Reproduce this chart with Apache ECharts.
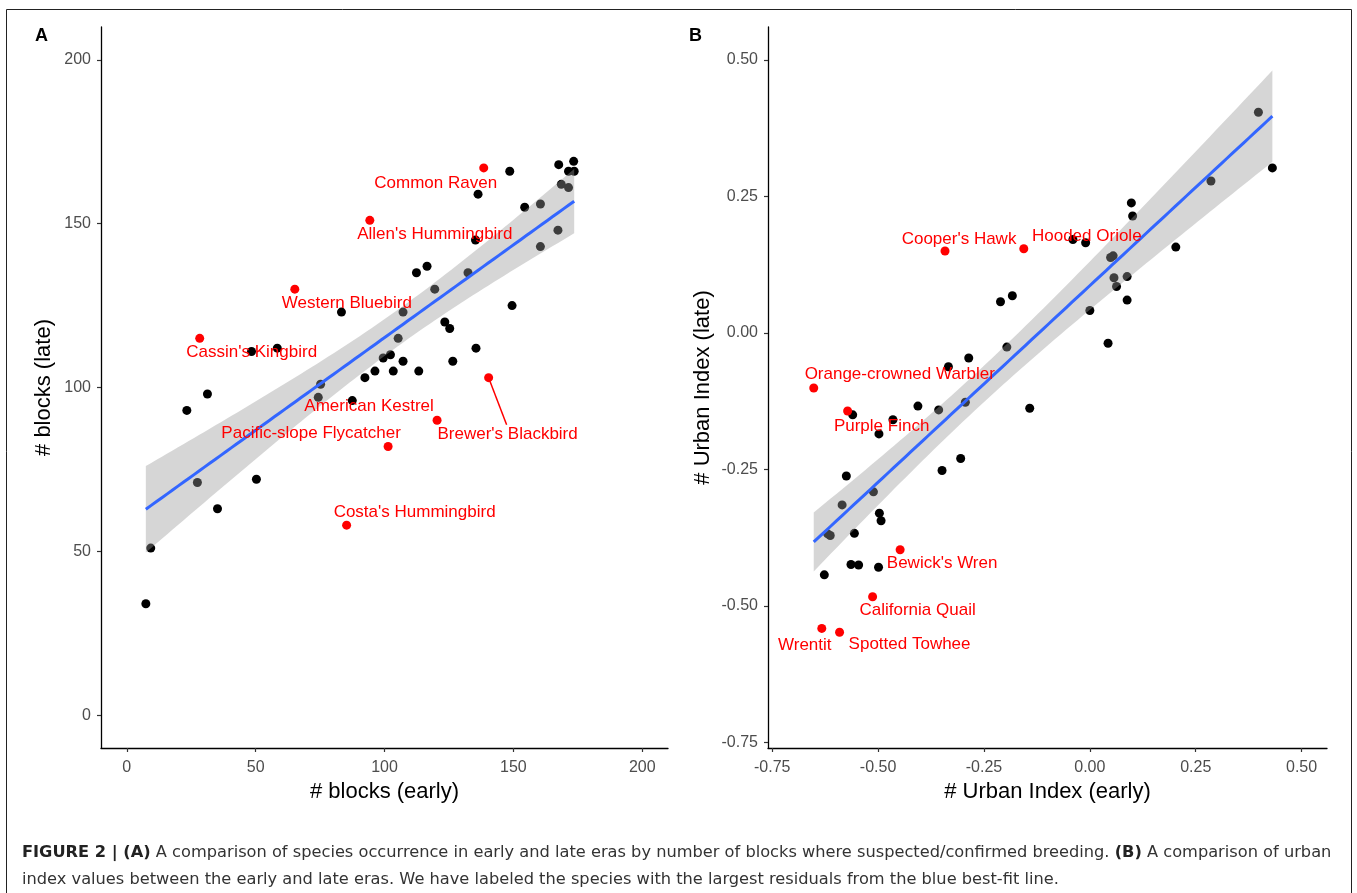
<!DOCTYPE html>
<html><head><meta charset="utf-8">
<script src="https://cdn.jsdelivr.net/npm/echarts@6/dist/echarts.min.js"></script>
<style>html,body{margin:0;padding:0;background:#fff;} #chart{width:1357px;height:893px;}</style>
</head><body><div id="chart"></div>
<script>
// ---------- data ----------
const blocksTicks = [0, 50, 100, 150, 200];
const urbanTicks = [-0.75, -0.5, -0.25, 0, 0.25, 0.5];

// Panel A: [# blocks (early), # blocks (late)]
const blocksPoints = [
  [148.6,166],[167.6,168],[173.4,169],[171.4,166],[173.6,166],[168.6,162],[171.4,161],
  [136.3,159],[154.4,155],[160.5,156],[135.3,145],[167.3,148],[160.5,143],[112.4,135],
  [116.5,137],[132.4,135],[119.5,130],[149.5,125],[83.3,123],[107.2,123],[123.4,120],
  [125.3,118],[105.3,115],[48.4,111],[58.4,112],[135.5,112],[99.5,109],[102.3,110],
  [107.2,108],[126.5,108],[96.3,105],[103.4,105],[113.3,105],[92.4,103],[75.2,101],
  [74.3,97],[87.5,96],[31.3,98],[23.3,93],[27.4,71],[50.3,72],[35.2,63],[9.3,51],[7.4,34]
];
const blocksLabeledNames = [
  "Common Raven","Allen's Hummingbird","Western Bluebird","Cassin's Kingbird",
  "Brewer's Blackbird","American Kestrel","Pacific-slope Flycatcher","Costa's Hummingbird"
];
const blocksLabeledPoints = [
  [138.5,167],[94.3,151],[65.2,130],[28.3,115],[140.4,103],[120.4,90],[101.4,82],[85.3,58]
];

// Panel B: [urban index (early), urban index (late)]
const urbanPoints = [
  [0.398,0.404],[0.431,0.302],[0.286,0.278],[0.098,0.238],[0.101,0.214],[-0.040,0.171],
  [-0.010,0.165],[0.203,0.157],[0.049,0.138],[0.055,0.141],[0.057,0.101],[0.088,0.103],
  [0.063,0.085],[0.088,0.060],[0.000,0.041],[0.043,-0.019],[-0.211,0.057],[-0.183,0.068],
  [-0.560,-0.150],[-0.498,-0.185],[-0.465,-0.159],[-0.406,-0.134],[-0.357,-0.141],
  [-0.294,-0.127],[-0.334,-0.062],[-0.286,-0.046],[-0.196,-0.026],[-0.142,-0.138],
  [-0.305,-0.230],[-0.349,-0.252],[-0.575,-0.262],[-0.511,-0.291],[-0.585,-0.315],
  [-0.497,-0.330],[-0.493,-0.344],[-0.556,-0.367],[-0.613,-0.371],[-0.619,-0.368],
  [-0.564,-0.424],[-0.546,-0.425],[-0.499,-0.429],[-0.627,-0.443]
];
const urbanLabeledNames = [
  "Cooper's Hawk","Hooded Oriole","Orange-crowned Warbler","Purple Finch",
  "Bewick's Wren","California Quail","Wrentit","Spotted Towhee"
];
const urbanLabeledPoints = [
  [-0.342,0.150],[-0.156,0.154],[-0.652,-0.101],[-0.572,-0.143],
  [-0.448,-0.397],[-0.513,-0.483],[-0.633,-0.541],[-0.591,-0.548]
];

// ---------- layout / style (not data) ----------
const labelOffsets = {
  "Common Raven": [-48, 15], "Allen's Hummingbird": [65, 14], "Western Bluebird": [52, 14],
  "Cassin's Kingbird": [52, 14], "Brewer's Blackbird": [19, 57], "American Kestrel": [-68, -14],
  "Pacific-slope Flycatcher": [-77, -13], "Costa's Hummingbird": [68, -13],
  "Cooper's Hawk": [14, -12], "Hooded Oriole": [63, -12], "Orange-crowned Warbler": [86, -14],
  "Purple Finch": [34, 15], "Bewick's Wren": [42, 14], "California Quail": [45, 14],
  "Wrentit": [-17, 17], "Spotted Towhee": [70, 12]
};
const FONT = "'Liberation Sans', Arial, Helvetica, sans-serif";
const CAP_FONT = "'DejaVu Sans', 'Liberation Sans', sans-serif";

// linear model + 95% CI (as geom_smooth(method='lm'))
function lmFit(pts) {
  const n = pts.length;
  const xbar = pts.reduce((s, p) => s + p[0], 0) / n;
  const ybar = pts.reduce((s, p) => s + p[1], 0) / n;
  let sxx = 0, sxy = 0;
  pts.forEach(p => { sxx += (p[0]-xbar)**2; sxy += (p[0]-xbar)*(p[1]-ybar); });
  const b = sxy / sxx, a = ybar - b * xbar;
  let sse = 0; pts.forEach(p => { sse += (p[1] - a - b*p[0])**2; });
  const s = Math.sqrt(sse / (n - 2));
  const t = 2.01;
  const xmin = Math.min(...pts.map(p => p[0])), xmax = Math.max(...pts.map(p => p[0]));
  const line = [], upper = [], lower = [];
  const N = 80;
  for (let i = 0; i <= N; i++) {
    const x = xmin + (xmax - xmin) * i / N;
    const yh = a + b * x;
    const se = s * Math.sqrt(1/n + (x - xbar)**2 / sxx);
    line.push([x, yh]); upper.push([x, yh + t*se]); lower.push([x, yh - t*se]);
  }
  return { line, upper, lower };
}
const fitA = lmFit(blocksPoints.concat(blocksLabeledPoints));
const fitB = lmFit(urbanPoints.concat(urbanLabeledPoints));

function bandSeries(fit, idx) {
  return {
    type: 'custom', xAxisIndex: idx, yAxisIndex: idx, z: 3, silent: true,
    data: [[fit.line[0][0], fit.line[0][1]]],
    renderItem: (params, api) => {
      const pts = fit.upper.map(p => api.coord(p))
        .concat(fit.lower.slice().reverse().map(p => api.coord(p)));
      return { type: 'polygon', shape: { points: pts }, style: { fill: 'rgba(153,153,153,0.4)' } };
    }
  };
}
function labeledSeries(names, pts, idx) {
  return {
    type: 'scatter', xAxisIndex: idx, yAxisIndex: idx, z: 5, symbolSize: 9,
    itemStyle: { color: '#ff0000', opacity: 1 },
    data: names.map((nm, i) => ({ name: nm, value: pts[i], label: { offset: labelOffsets[nm] } })),
    label: { show: true, position: 'inside', formatter: '{b}', color: '#ff0000',
             fontSize: 17, fontFamily: FONT },
    emphasis: { disabled: true }
  };
}
function mkX(idx, min, max, ticks, name, fmt) {
  return {
    gridIndex: idx, type: 'value', min, max,
    axisLine: { show: true, onZero: false, lineStyle: { color: '#000', width: 1.3 } },
    axisTick: { show: true, customValues: ticks, length: 4, lineStyle: { color: '#333', width: 1.2 } },
    axisLabel: { customValues: ticks, color: '#4d4d4d', fontSize: 16, fontFamily: FONT, margin: 12, formatter: fmt },
    splitLine: { show: false },
    name, nameLocation: 'middle', nameGap: 31,
    nameTextStyle: { fontSize: 22, color: '#000', fontFamily: FONT }
  };
}
function mkY(idx, min, max, ticks, name, fmt, gap) {
  return {
    gridIndex: idx, type: 'value', min, max,
    axisLine: { show: true, onZero: false, lineStyle: { color: '#000', width: 1.3 } },
    axisTick: { show: true, customValues: ticks, length: 4, lineStyle: { color: '#333', width: 1.2 } },
    axisLabel: { customValues: ticks, color: '#4d4d4d', fontSize: 16, fontFamily: FONT, margin: 10, formatter: fmt },
    splitLine: { show: false },
    name, nameLocation: 'middle', nameGap: gap,
    nameTextStyle: { fontSize: 22, color: '#000', fontFamily: FONT }
  };
}
const fmtB = v => v.toFixed(2);
const fmtA = v => String(v);

const chart = echarts.init(document.getElementById('chart'), null, { renderer: 'canvas' });
chart.setOption({
  animation: false,
  backgroundColor: '#fff',
  grid: [
    { left: 101, top: 27, width: 567, height: 721 },
    { left: 768, top: 27, width: 559, height: 721 }
  ],
  xAxis: [
    mkX(0, -10, 210, blocksTicks, '# blocks (early)', fmtA),
    mkX(1, -0.76, 0.56, urbanTicks, '# Urban Index (early)', fmtB)
  ],
  yAxis: [
    mkY(0, -10, 210, blocksTicks, '# blocks (late)', fmtA, 46),
    mkY(1, -0.76, 0.56, urbanTicks, '# Urban Index (late)', fmtB, 54)
  ],
  series: [
    { type: 'scatter', xAxisIndex: 0, yAxisIndex: 0, z: 2, symbolSize: 9,
      itemStyle: { color: '#000', opacity: 1 }, data: blocksPoints, emphasis: { disabled: true } },
    bandSeries(fitA, 0),
    { type: 'line', xAxisIndex: 0, yAxisIndex: 0, z: 4, data: fitA.line, showSymbol: false,
      lineStyle: { color: '#3366ff', width: 3 }, silent: true },
    labeledSeries(blocksLabeledNames, blocksLabeledPoints, 0),

    { type: 'scatter', xAxisIndex: 1, yAxisIndex: 1, z: 2, symbolSize: 9,
      itemStyle: { color: '#000', opacity: 1 }, data: urbanPoints, emphasis: { disabled: true } },
    bandSeries(fitB, 1),
    { type: 'line', xAxisIndex: 1, yAxisIndex: 1, z: 4, data: fitB.line, showSymbol: false,
      lineStyle: { color: '#3366ff', width: 3 }, silent: true },
    labeledSeries(urbanLabeledNames, urbanLabeledPoints, 1)
  ]
});

// caption font size fitted to the caption's width in the figure
const cap1 = 'FIGURE 2 | (A) A comparison of species occurrence in early and late eras by number of blocks where suspected/confirmed breeding. (B) A comparison of urban';
const cap2 = 'index values between the early and late eras. We have labeled the species with the largest residuals from the blue best-fit line.';
const mctx = document.createElement('canvas').getContext('2d');
mctx.font = '15px ' + CAP_FONT;
const w1 = mctx.measureText(cap1).width;
const capSize = Math.max(13, Math.min(18, 15 * 1293 / w1));

// extra graphics: frame, panel letters, repel segment, caption
const bb = blocksLabeledPoints[blocksLabeledNames.indexOf("Brewer's Blackbird")];
const p0 = chart.convertToPixel({ gridIndex: 0 }, bb);
chart.setOption({
  graphic: [
    { type: 'rect', shape: { x: 6.5, y: 9.5, width: 1345, height: 900 },
      style: { fill: null, stroke: '#222', lineWidth: 1 }, z: 0, silent: true },
    { type: 'text', x: 35, y: 36, style: { text: 'A', fontSize: 18, fontWeight: 'bold', fill: '#000',
      fontFamily: FONT, verticalAlign: 'middle' } },
    { type: 'text', x: 689, y: 36, style: { text: 'B', fontSize: 18, fontWeight: 'bold', fill: '#000',
      fontFamily: FONT, verticalAlign: 'middle' } },
    { type: 'line', shape: { x1: p0[0], y1: p0[1], x2: p0[0] + 18, y2: p0[1] + 47 },
      style: { stroke: '#ff0000', lineWidth: 1.5 }, z: 10 },
    { type: 'text', x: 22, y: 853, style: {
        text: '{b|FIGURE 2 | (A)} A comparison of species occurrence in early and late eras by number of blocks where suspected/confirmed breeding. {b|(B)} A comparison of urban',
        rich: { b: { fontWeight: 'bold', fontSize: capSize, fontFamily: CAP_FONT, fill: '#222' } },
        fontSize: capSize, fontFamily: CAP_FONT, fill: '#333', verticalAlign: 'middle' } },
    { type: 'text', x: 22, y: 880, style: {
        text: cap2,
        fontSize: capSize, fontFamily: CAP_FONT, fill: '#333', verticalAlign: 'middle' } }
  ]
});
</script>
</body></html>
